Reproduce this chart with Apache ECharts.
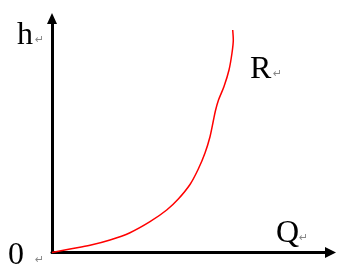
<!DOCTYPE html>
<html><head><meta charset="utf-8">
<script src="https://cdn.jsdelivr.net/npm/echarts@6/dist/echarts.min.js"></script>
<style>html,body{margin:0;padding:0;background:#fff}#c{width:338px;height:270px}</style>
</head><body><div id="c"></div>
<script>
const flowQ = [0, 18, 38, 58, 78, 98, 114.7, 126.3, 138, 146.3, 153, 158, 161.3, 163.5, 166.5, 172, 177, 180, 181.3, 180.7];
const headH = [0, 3.5, 7.2, 12.5, 19.8, 30.8, 42.5, 53.5, 68, 83.5, 99.5, 115.8, 131.5, 142, 152.5, 166, 182.5, 199.5, 212.5, 222.5];
const axisLabels = { y: 'h', x: 'Q', origin: '0', curve: 'R' };

const chart = echarts.init(document.getElementById('c'), null, { renderer: 'canvas' });
const serif = '"Liberation Serif","DejaVu Serif",serif';
const letter = (text, x, y) => ({
  type: 'text', left: x, top: y, silent: true,
  style: { text, font: '32px ' + serif, fill: '#000' }
});
const ret = (x, y) => ({
  type: 'text', left: x, top: y, silent: true,
  style: { text: '\u21B5', font: '11px "DejaVu Sans",sans-serif', fill: '#888' }
});
chart.setOption({
  animation: false,
  grid: { left: 52, right: 7.5, top: 18.5, bottom: 17.5 },
  xAxis: {
    type: 'value', min: 0, max: 278.5,
    axisLine: { show: true, onZero: false, symbol: ['none', 'triangle'], symbolSize: [11, 11], lineStyle: { color: '#000', width: 3 } },
    axisTick: { show: false }, axisLabel: { show: false }, splitLine: { show: false }
  },
  yAxis: {
    type: 'value', min: 0, max: 234,
    axisLine: { show: true, onZero: false, symbol: ['none', 'triangle'], symbolSize: [10, 11], lineStyle: { color: '#000', width: 3 } },
    axisTick: { show: false }, axisLabel: { show: false }, splitLine: { show: false }
  },
  series: [{
    type: 'line', smooth: 0.3, showSymbol: false, clip: false,
    data: flowQ.map((q, i) => [q, headH[i]]),
    lineStyle: { color: '#ff0000', width: 1.5 }
  }],
  graphic: [
    letter(axisLabels.y, 17, 20),
    ret(35, 35),
    letter(axisLabels.curve, 250, 54),
    ret(273, 69),
    letter(axisLabels.x, 276, 218),
    ret(299, 233),
    letter(axisLabels.origin, 8, 240),
    ret(35, 255)
  ]
});
</script></body></html>
